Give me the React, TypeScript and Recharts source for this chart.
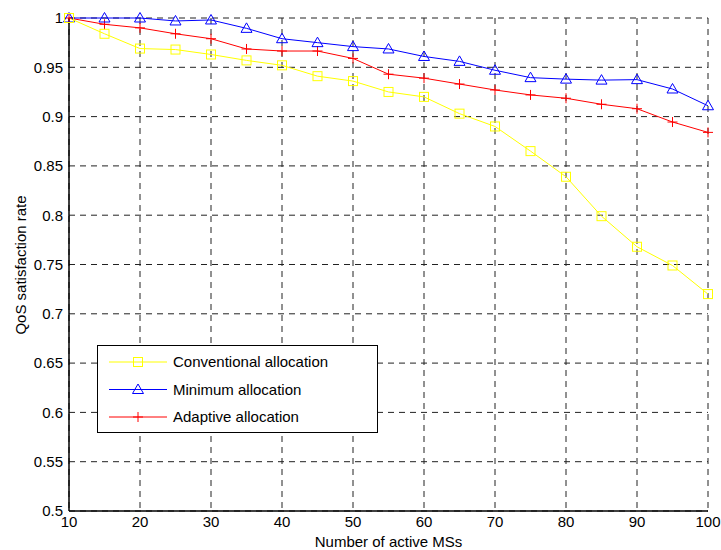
import React from 'react';
import { LineChart, Line, XAxis, YAxis, CartesianGrid, Legend } from 'recharts';

const activeMSs = [10, 15, 20, 25, 30, 35, 40, 45, 50, 55, 60, 65, 70, 75, 80, 85, 90, 95, 100];
const conventional = [1.0, 0.984, 0.969, 0.968, 0.963, 0.957, 0.952, 0.941, 0.936, 0.925, 0.92, 0.903, 0.89, 0.865, 0.839, 0.799, 0.768, 0.749, 0.72];
const minimum = [1.0, 1.0, 1.0, 0.997, 0.998, 0.9895, 0.979, 0.975, 0.971, 0.9686, 0.961, 0.956, 0.947, 0.9395, 0.938, 0.937, 0.9375, 0.928, 0.911];
const adaptive = [1.0, 0.9936, 0.99, 0.984, 0.979, 0.9686, 0.9665, 0.9665, 0.959, 0.943, 0.939, 0.933, 0.927, 0.922, 0.9186, 0.9125, 0.908, 0.8945, 0.884];

const xTicks = [10, 20, 30, 40, 50, 60, 70, 80, 90, 100];
const yTicks = [0.5, 0.55, 0.6, 0.65, 0.7, 0.75, 0.8, 0.85, 0.9, 0.95, 1];

const seriesNames = ['Conventional allocation', 'Minimum allocation', 'Adaptive allocation'];
const xLabel = 'Number of active MSs';
const yLabel = 'QoS satisfaction rate';

const data = activeMSs.map((x, i) => ({
  x,
  conventional: conventional[i],
  minimum: minimum[i],
  adaptive: adaptive[i],
}));

const FONT = '"Liberation Sans", Arial, sans-serif';
const FS = 15;
const YELLOW = '#ffff00';
const BLUE = '#0000ff';
const RED = '#ff0000';

const squareShape = (cx: number, cy: number, key?: any) => (
  <rect key={key} x={cx - 4.5} y={cy - 4.5} width={9} height={9} fill="none" stroke={YELLOW} strokeWidth={1} />
);
const triangleShape = (cx: number, cy: number, key?: any) => (
  <polygon key={key} points={`${cx},${cy - 5.5} ${cx + 5.5},${cy + 4} ${cx - 5.5},${cy + 4}`} fill="none" stroke={BLUE} strokeWidth={1} />
);
const plusShape = (cx: number, cy: number, key?: any) => (
  <path key={key} d={`M${cx - 5},${cy} L${cx + 5},${cy} M${cx},${cy - 5} L${cx},${cy + 5}`} stroke={RED} strokeWidth={1} fill="none" />
);

const SquareDot = (p: any) => squareShape(p.cx, p.cy, p.index);
const TriangleDot = (p: any) => triangleShape(p.cx, p.cy, p.index);
const PlusDot = (p: any) => plusShape(p.cx, p.cy, p.index);

const legendItems = [
  { name: seriesNames[0], color: YELLOW, shape: squareShape },
  { name: seriesNames[1], color: BLUE, shape: triangleShape },
  { name: seriesNames[2], color: RED, shape: plusShape },
];

const LegendBox = () => (
  <svg width={281} height={88} style={{ display: 'block' }}>
    <rect x={0.5} y={0.5} width={280} height={87} fill="#fff" stroke="#000" strokeWidth={1} />
    {legendItems.map((it, i) => {
      const y = 17 + i * 27.5;
      return (
        <g key={it.name}>
          <line x1={12} x2={70} y1={y} y2={y} stroke={it.color} strokeWidth={1} />
          {it.shape(41, y)}
          <text x={76} y={y + 5} fontFamily={FONT} fontSize={FS} fill="#000">{it.name}</text>
        </g>
      );
    })}
  </svg>
);

const fmt = (v: number) => String(parseFloat(v.toFixed(2)));

export default function App() {
  return (
    <div style={{ position: 'absolute', left: 0, top: 0, width: 721, height: 550, background: '#fff' }}>
      <LineChart width={721} height={550} data={data} margin={{ top: 18, right: 13, bottom: 0, left: 0 }}>
        <CartesianGrid stroke="#222" strokeDasharray="6 5" strokeWidth={1} />
        <XAxis
          dataKey="x"
          type="number"
          domain={[10, 100]}
          ticks={xTicks}
          height={39}
          tickLine={false}
          tickSize={0}
          tickMargin={5}
          axisLine={{ stroke: '#000', strokeWidth: 1.5 }}
          tick={{ fill: '#000', fontFamily: FONT, fontSize: FS }}
          label={{
            content: () => (
              <text x={388.5} y={547} textAnchor="middle" fontFamily={FONT} fontSize={FS} fill="#000">{xLabel}</text>
            ),
          } as any}
        />
        <XAxis xAxisId="top" orientation="top" dataKey="x" type="number" domain={[10, 100]} ticks={xTicks} height={0} tick={false} tickLine={false} axisLine={{ stroke: '#000', strokeWidth: 1 }} />
        <YAxis
          type="number"
          domain={[0.5, 1]}
          ticks={yTicks}
          width={69}
          tickLine={false}
          tickSize={0}
          tickMargin={6}
          tickFormatter={fmt}
          axisLine={{ stroke: '#000', strokeWidth: 1.5 }}
          tick={{ fill: '#000', fontFamily: FONT, fontSize: FS }}
          label={{
            content: () => (
              <text x={26} y={265} transform="rotate(-90 26 265)" textAnchor="middle" fontFamily={FONT} fontSize={FS} fill="#000">{yLabel}</text>
            ),
          } as any}
        />
        <YAxis yAxisId="right" orientation="right" type="number" domain={[0.5, 1]} ticks={yTicks} width={0} tick={false} tickLine={false} axisLine={{ stroke: '#000', strokeWidth: 1 }} />
        <Legend
          layout="vertical"
          align="center"
          verticalAlign="middle"
          wrapperStyle={{ position: 'absolute', left: 97, top: 345, width: 281, height: 88 }}
          content={() => <LegendBox />}
        />
        <Line dataKey="adaptive" name={seriesNames[2]} stroke={RED} strokeWidth={1} dot={PlusDot} isAnimationActive={false} />
        <Line dataKey="minimum" name={seriesNames[1]} stroke={BLUE} strokeWidth={1} dot={TriangleDot} isAnimationActive={false} />
        <Line dataKey="conventional" name={seriesNames[0]} stroke={YELLOW} strokeWidth={1} dot={SquareDot} isAnimationActive={false} />
      </LineChart>
    </div>
  );
}
